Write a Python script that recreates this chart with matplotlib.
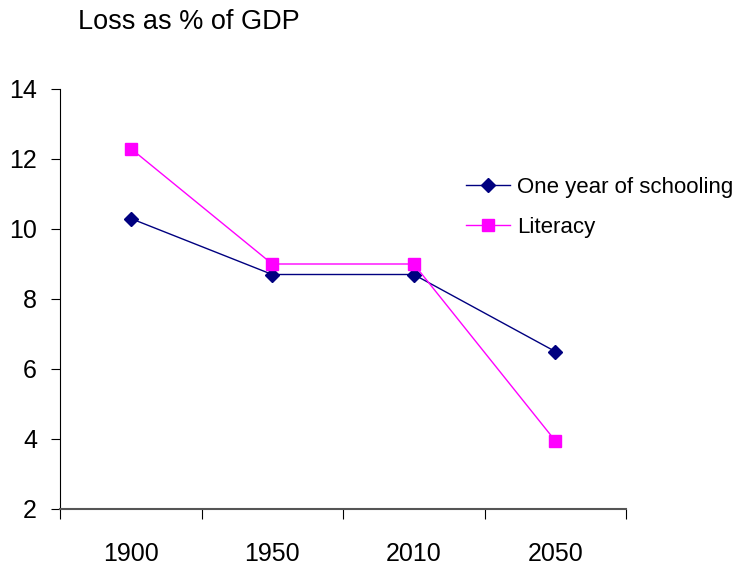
import matplotlib.pyplot as plt
import numpy as np

plt.rcParams['font.family'] = ['Liberation Sans', 'DejaVu Sans']

categories = ['1900', '1950', '2010', '2050']
schooling = [10.3, 8.7, 8.7, 6.5]
literacy = [12.3, 9.0, 9.0, 3.95]

fig = plt.figure(figsize=(7.47, 5.69), dpi=100)
ax = fig.add_axes([60/747, 60/569, 566/747, 420/569])

x = np.arange(len(categories))
ax.plot(x, schooling, color='#000080', marker='D', markersize=7.5, linewidth=1,
        label='One year of schooling')
ax.plot(x, literacy, color='#FF00FF', marker='s', markersize=8.5, linewidth=1,
        label='Literacy')

ax.set_xlim(-0.5, 3.5)
ax.set_ylim(2, 14)
ax.set_yticks(range(2, 15, 2))
ax.set_xticks(np.arange(-0.5, 4, 1))
ax.set_xticklabels([])
ax.set_xticks(x, minor=True)
ax.set_xticklabels(categories, minor=True)
ax.tick_params(axis='x', which='minor', length=0, pad=24, labelsize=18)
ax.tick_params(axis='x', which='major', length=7, direction='out', color='black')
ax.tick_params(axis='y', length=6.5, direction='out', labelsize=18, pad=10)

for s in ['top', 'right']:
    ax.spines[s].set_visible(False)
ax.spines['bottom'].set_color('#555555')
ax.spines['bottom'].set_linewidth(1.5)
ax.spines['left'].set_color('black')

fig.text(78/747, 1 - 22/569, 'Loss as % of GDP', fontsize=19.5, va='center', ha='left')

fig.legend(loc='upper left', bbox_to_anchor=(457/747, 1 - 168/569), frameon=False,
           fontsize=16, handlelength=2.0, handletextpad=0.3, labelspacing=0.85,
           borderaxespad=0)

fig.savefig('out.png', dpi=100)
